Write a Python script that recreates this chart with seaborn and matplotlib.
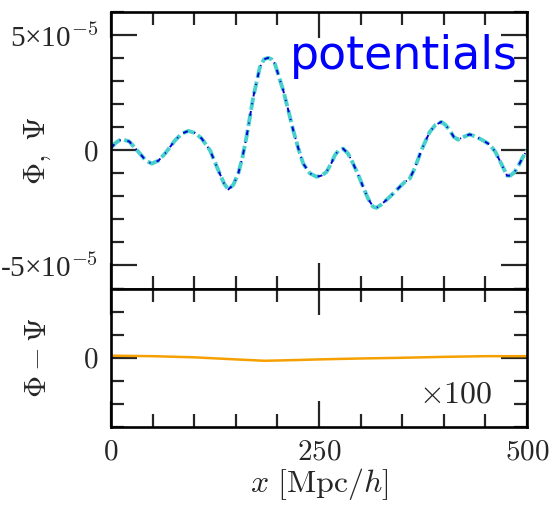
import numpy as np
import pandas as pd
import matplotlib
matplotlib.use("Agg")
import matplotlib.pyplot as plt
import seaborn as sns
from matplotlib.ticker import MultipleLocator, FixedLocator, FixedFormatter

# potentials (x in Mpc/h, values in units of 1e-5)
x_pot = [0, 5, 10, 15, 22, 33, 42, 49, 57, 65, 77, 85, 93, 101, 109, 119,
         129, 136, 141, 147, 153, 158, 163, 171, 179, 184, 189, 193, 197,
         207, 213, 219, 225, 231, 239, 247, 253, 259, 265, 269, 274, 279,
         285, 291, 297, 303, 309, 315, 319, 325, 333, 340, 347, 353, 359,
         365, 373, 383, 390, 397, 402, 407, 412, 417, 424, 431, 439, 447,
         455, 462, 470, 476, 480, 485, 490, 495, 500]
phi = [0.10, 0.30, 0.43, 0.46, 0.38, -0.07, -0.45, -0.58, -0.45, -0.14,
       0.43, 0.72, 0.84, 0.75, 0.51, 0.00, -0.87, -1.45, -1.70, -1.50,
       -1.01, -0.30, 0.60, 2.31, 3.61, 3.95, 4.01, 3.95, 3.75, 2.60, 1.75,
       0.87, 0.10, -0.58, -1.00, -1.15, -1.10, -0.94, -0.55, -0.22, 0.02,
       0.07, -0.15, -0.58, -1.05, -1.59, -2.10, -2.45, -2.50, -2.35, -2.09,
       -1.85, -1.59, -1.38, -1.23, -0.79, 0.00, 0.79, 1.10, 1.23, 1.10,
       0.87, 0.58, 0.46, 0.58, 0.69, 0.58, 0.43, 0.25, -0.07, -0.65, -1.10,
       -1.10, -0.95, -0.65, -0.30, 0.00]
psi = list(phi)  # indistinguishable at this scale

# difference panel (x100)
x_diff = [0, 50, 100, 150, 185, 220, 250, 300, 350, 400, 450, 500]
diff = [0.09, 0.07, 0.02, -0.07, -0.13, -0.10, -0.07, -0.03, 0.00, 0.04, 0.07, 0.07]

sns.set_style("ticks")
plt.rcParams["mathtext.fontset"] = "cm"
plt.rcParams["font.family"] = ["Liberation Serif", "DejaVu Serif"]

df = pd.DataFrame({"x": x_pot, "phi": np.array(phi) * 1e-5,
                   "psi": np.array(psi) * 1e-5})
df_diff = pd.DataFrame({"x": x_diff, "diff": diff})

fig = plt.figure(figsize=(5.53, 5.08), dpi=100)
ax1 = fig.add_axes([0.2007, 0.432, 0.7523, 0.5444])
ax2 = fig.add_axes([0.2007, 0.1594, 0.7523, 0.2726])

sns.lineplot(data=df, x="x", y="psi", ax=ax1, color="#48d1cc", lw=2.8,
             dashes=False, linestyle=(0, (3.2, 1.0)))
sns.lineplot(data=df, x="x", y="phi", ax=ax1, color="#0000d0", lw=1.4,
             dashes=False, linestyle=(0, (2.5, 3.5, 0.6, 3.5)))
sns.lineplot(data=df_diff, x="x", y="diff", ax=ax2, color="#f5a000", lw=1.8)

for ax in (ax1, ax2):
    ax.set_xlim(0, 500)
    ax.xaxis.set_major_locator(FixedLocator([0, 250, 500]))
    ax.xaxis.set_minor_locator(MultipleLocator(50))
    ax.tick_params(which="both", direction="in", top=True, right=True,
                   labelsize=21, pad=9)
    ax.tick_params(which="major", length=19, width=1.6)
    ax.tick_params(which="minor", length=9.5, width=1.6)
    for s in ax.spines.values():
        s.set_linewidth(1.9)
        s.set_color("black")

ax1.set_ylim(-6e-5, 6e-5)
ax1.yaxis.set_major_locator(FixedLocator([-5e-5, 0, 5e-5]))
ax1.yaxis.set_major_formatter(FixedFormatter(
    ["-5×10$^{-5}$", "$0$", "5×10$^{-5}$"]))
ax1.yaxis.set_minor_locator(MultipleLocator(1e-5))
ax1.tick_params(axis="x", labelbottom=False)
ax1.set_xlabel("")
ax1.set_ylabel(r"$\Phi,\ \Psi$", fontsize=22)
ax1.yaxis.set_label_coords(-0.14, 0.5)
ax1.text(0.978, 0.795, "potentials", transform=ax1.transAxes, ha="right",
         va="baseline", color="blue", fontsize=33, family="DejaVu Sans")

ax2.set_ylim(-3, 3)
ax2.yaxis.set_major_locator(FixedLocator([0]))
ax2.yaxis.set_major_formatter(FixedFormatter(["$0$"]))
ax2.yaxis.set_minor_locator(MultipleLocator(1))
ax2.xaxis.set_major_formatter(FixedFormatter(["$0$", "$250$", "$500$"]))
ax2.set_ylabel(r"$\Phi - \Psi$", fontsize=22)
ax2.yaxis.set_label_coords(-0.14, 0.5)
ax2.set_xlabel(r"$x\ [\mathrm{Mpc}/h]$", fontsize=23, labelpad=0)
ax2.text(0.916, 0.177, r"$\times 100$", transform=ax2.transAxes, ha="right",
         va="baseline", fontsize=23)

fig.savefig("out.png", dpi=100)
